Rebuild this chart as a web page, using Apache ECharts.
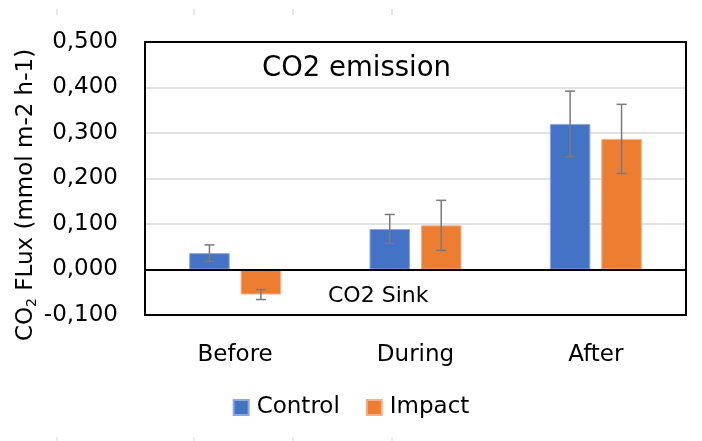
<!DOCTYPE html>
<html>
<head>
<meta charset="utf-8">
<script src="https://cdn.jsdelivr.net/npm/echarts@6/dist/echarts.min.js"></script>
<style>
  html, body { margin: 0; padding: 0; background: #fff; }
  #chart { width: 702px; height: 441px; }
</style>
</head>
<body>
<div id="chart"></div>
<script>
// Mean CO2 flux per period, with error bar half-widths
const periods = ['Before', 'During', 'After'];
const seriesNames = ['Control', 'Impact'];
const controlMean = [0.036, 0.089, 0.320];
const controlErr = [0.018, 0.032, 0.072];
const impactMean = [-0.055, 0.097, 0.287];
const impactErr = [0.011, 0.055, 0.076];
const yMin = -0.1, yMax = 0.5, yStep = 0.1;

const FONT = '"DejaVu Sans"';
const BLUE = '#4472C4';
const ORANGE = '#ED7D31';
const BAR_CAT_GAP = 0.49;
const BAR_GAP = 0.27;

// Error bars drawn on top of each bar of the pair (slot 0 = left, 1 = right)
function errorSeries(means, errs, slot) {
  return {
    type: 'custom',
    z: 5,
    silent: true,
    data: means.map((m, i) => [i, m - errs[i], m + errs[i]]),
    renderItem: function (params, api) {
      const band = api.size([1, 0])[0];
      const w = band * (1 - BAR_CAT_GAP) / (2 + BAR_GAP);
      const off = (w * (1 + BAR_GAP) / 2) * (slot === 0 ? -1 : 1);
      const lo = api.coord([api.value(0), api.value(1)]);
      const hi = api.coord([api.value(0), api.value(2)]);
      const x = lo[0] + off;
      const cap = 5;
      const style = { stroke: '#7a7a7a', lineWidth: 1.5 };
      return {
        type: 'group',
        children: [
          { type: 'line', shape: { x1: x, y1: lo[1], x2: x, y2: hi[1] }, style },
          { type: 'line', shape: { x1: x - cap, y1: lo[1], x2: x + cap, y2: lo[1] }, style },
          { type: 'line', shape: { x1: x - cap, y1: hi[1], x2: x + cap, y2: hi[1] }, style }
        ]
      };
    }
  };
}

const chart = echarts.init(document.getElementById('chart'), null, { renderer: 'canvas' });

// Faint tick marks along the top and bottom edges
const edgeTicks = [57, 194, 293, 392];
const edgeGraphics = [];
edgeTicks.forEach(x => {
  edgeGraphics.push({ type: 'line', shape: { x1: x, y1: 9, x2: x, y2: 15 }, style: { stroke: '#d0d0d0', lineWidth: 1 } });
  edgeGraphics.push({ type: 'line', shape: { x1: x, y1: 437, x2: x, y2: 441 }, style: { stroke: '#d8d8d8', lineWidth: 1 } });
});

chart.setOption({
  animation: false,
  backgroundColor: '#fff',
  textStyle: { fontFamily: FONT },
  grid: {
    left: 145, right: 16, top: 42, bottom: 126, z: 6,
    show: true, borderColor: '#000', borderWidth: 2, backgroundColor: 'transparent'
  },
  legend: {
    data: seriesNames,
    top: 391,
    left: 'center',
    itemWidth: 15,
    itemHeight: 15,
    itemGap: 26,
    icon: 'rect',
    textStyle: { fontFamily: FONT, fontSize: 23, color: '#000', padding: [0, 0, 0, 3] }
  },
  xAxis: {
    type: 'category',
    data: periods,
    axisLine: { show: false, onZero: false },
    axisTick: { show: false },
    axisLabel: { margin: 29, fontFamily: FONT, fontSize: 23, color: '#000' },
    splitLine: { show: false }
  },
  yAxis: {
    type: 'value',
    min: yMin, max: yMax, interval: yStep,
    axisLine: { show: false },
    axisTick: { show: false },
    axisLabel: {
      margin: 27, fontFamily: FONT, fontSize: 23, color: '#000',
      formatter: v => v.toFixed(3).replace('.', ',')
    },
    splitLine: { show: true, lineStyle: { color: '#d9d9d9', width: 1.5 } },
    name: 'CO{sub|2} FLux (mmol m-2 h-1)',
    nameLocation: 'middle',
    nameRotate: 90,
    nameGap: 106,
    nameMoveOverlap: false,
    nameTextStyle: {
      fontFamily: FONT, fontSize: 23, color: '#000', padding: [0, 33, 0, 0],
      rich: { sub: { fontFamily: FONT, fontSize: 14, color: '#000', verticalAlign: 'bottom', padding: [12, 0, 0, 0] } }
    }
  },
  series: [
    {
      name: 'Control', type: 'bar', data: controlMean,
      barCategoryGap: (BAR_CAT_GAP * 100) + '%', barGap: (BAR_GAP * 100) + '%',
      itemStyle: { color: BLUE, borderColor: '#8fa9dc', borderWidth: 1 },
      markLine: {
        silent: true, symbol: 'none', label: { show: false },
        lineStyle: { color: '#000', type: 'solid', width: 2 },
        data: [{ yAxis: 0 }]
      }
    },
    {
      name: 'Impact', type: 'bar', data: impactMean,
      barCategoryGap: (BAR_CAT_GAP * 100) + '%', barGap: (BAR_GAP * 100) + '%',
      itemStyle: { color: ORANGE, borderColor: '#f4b08a', borderWidth: 1 }
    },
    errorSeries(controlMean, controlErr, 0),
    errorSeries(impactMean, impactErr, 1)
  ],
  graphic: [
    { type: 'text', x: 262, y: 69, z: 10,
      style: { text: 'CO2 emission', fontFamily: FONT, fontSize: 27.5, fill: '#000', verticalAlign: 'middle' } },
    { type: 'text', x: 328, y: 296, z: 10,
      style: { text: 'CO2 Sink', fontFamily: FONT, fontSize: 22, fill: '#000', verticalAlign: 'middle' } }
  ].concat(edgeGraphics)
});
</script>
</body>
</html>
